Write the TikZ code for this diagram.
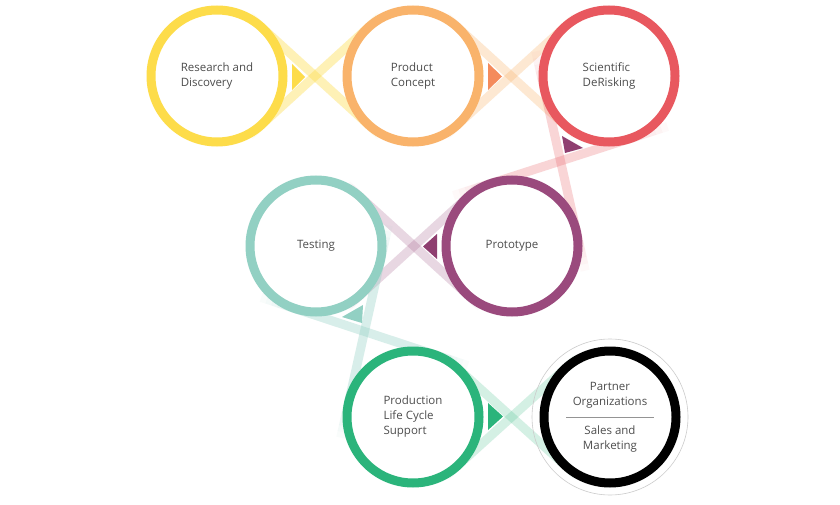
\documentclass[tikz,border=0pt]{standalone}
\usepackage{fontspec}
\setmainfont{Open Sans}
\usetikzlibrary{positioning,backgrounds,calc}
\definecolor{ringyellow}{HTML}{FDDC4A}
\definecolor{ringorange}{HTML}{F9B36B}
\definecolor{ringred}{HTML}{E8585F}
\definecolor{ringpurple}{HTML}{9A4A7D}
\definecolor{ringteal}{HTML}{92D0C3}
\definecolor{ringgreen}{HTML}{2BB47B}
\definecolor{tipsalmon}{HTML}{F48B5C}
\definecolor{tippurple}{HTML}{8F3F70}
\definecolor{textgrey}{HTML}{4D4D4D}
\tikzset{
  stage/.style={circle, draw=#1, line width=9pt, minimum size=132pt, inner sep=0pt,
    align=left, text=textgrey, font=\fontsize{11.5}{15}\selectfont},
  stagetext/.style={inner sep=0pt, align=center, text=textgrey, font=\fontsize{11.5}{15}\selectfont},
  ribbon/.style={draw=#1, line width=9pt},
  pointer/.style={fill=#1},
}
% one band: start, end, colour, opacity, fading length
\newcommand{\ribbonline}[5]{%
  \draw[ribbon=#3, draw opacity=#4] (#1) -- (#2);
  \foreach \k in {1,...,6}{
    \pgfmathsetlengthmacro{\da}{(\k-1)*#5/6}
    \pgfmathsetlengthmacro{\db}{\k*#5/6}
    \pgfmathsetmacro{\fade}{#4*(1-\k/7)}
    \draw[ribbon=#3, draw opacity=\fade] ($(#1)!-\da!(#2)$) -- ($(#1)!-\db!(#2)$);
    \draw[ribbon=#3, draw opacity=\fade] ($(#2)!-\da!(#1)$) -- ($(#2)!-\db!(#1)$);
  }
}
% the two crossing bands between two stages
\newcommand{\ribbonpair}[6]{%
  \coordinate (ra) at ([shift={({#3+47.7}:66)}]#1.center);
  \coordinate (rb) at ([shift={({#3+227.7}:66)}]#2.center);
  \coordinate (rc) at ([shift={({#3-47.7}:66)}]#1.center);
  \coordinate (rd) at ([shift={({#3+132.3}:66)}]#2.center);
  \ribbonline{ra}{rb}{#4}{#5}{#6}
  \ribbonline{rc}{rd}{#4}{#5}{#6}
}

\begin{document}
\begin{tikzpicture}[x=1pt, y=-1pt]
  \useasboundingbox (0,0) rectangle (840,505);

  \node[stage=ringyellow] (research) at (217,76) {Research and\\Discovery};
  \node[stage=ringorange] (concept) at (413,76) {Product\\Concept};
  \node[stage=ringred] (derisking) at (609,76) {Scientific\\DeRisking};
  \node[stage=ringpurple] (prototype) at (512,246) {Prototype};
  \node[stage=ringteal] (testing) at (316,246) {Testing};
  \node[stage=ringgreen] (production) at (413,417) {Production\\Life Cycle\\Support};
  \node[stage=black] (partner) at (610,417) {};
  \draw[black!20, line width=0.6pt] (partner.center) circle (78pt);

  \node[stagetext, above=9pt of partner.center] (partnertop) {Partner\\Organizations};
  \node[stagetext, below=9pt of partner.center] (partnerbottom) {Sales and\\Marketing};
  \draw[textgrey!60, line width=0.8pt] ([xshift=-44pt]partner.center) -- ([xshift=44pt]partner.center);

  \begin{pgfonlayer}{background}
    \fill[white] (0,0) rectangle (840,505);
    \ribbonpair{research}{concept}{0}{ringyellow}{0.4}{16}
    \ribbonpair{concept}{derisking}{0}{ringorange}{0.3}{16}
    \ribbonpair{derisking}{prototype}{119.7}{ringred}{0.25}{40}
    \ribbonpair{prototype}{testing}{180}{ringpurple}{0.22}{18}
    \ribbonpair{testing}{production}{60.4}{ringteal}{0.35}{36}
    \ribbonpair{production}{partner}{0}{ringgreen}{0.2}{16}
  \end{pgfonlayer}

  \fill[pointer=ringyellow] ([shift={(75,-12)}]research.center) -- ++(0,26) -- ++(13,-13) -- cycle;
  \fill[pointer=tipsalmon] ([shift={(75,-13)}]concept.center) -- ++(0,27) -- ++(14,-13.5) -- cycle;
  \fill[pointer=tippurple] ([shift={(-47,60)}]derisking.center) -- ++(3,17) -- ++(18,-5) -- cycle;
  \fill[pointer=tippurple] ([shift={(-75,-12)}]prototype.center) -- ++(0,25) -- ++(-14,-12.5) -- cycle;
  \fill[pointer=ringteal] ([shift={(26,71)}]testing.center) -- ++(21,-12) -- ++(-1,18) -- cycle;
  \fill[pointer=ringgreen] ([shift={(75,-14)}]production.center) -- ++(0,27) -- ++(15,-13.5) -- cycle;
\end{tikzpicture}
\end{document}
